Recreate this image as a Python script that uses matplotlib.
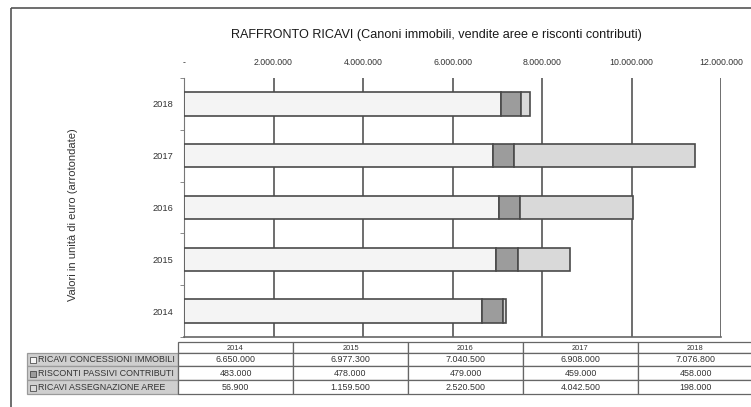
import numpy as np
import matplotlib.pyplot as plt
from matplotlib.patches import Rectangle
from matplotlib.ticker import FuncFormatter, FixedLocator

plt.rcParams['font.family'] = ['Liberation Sans', 'DejaVu Sans']

years = ["2014", "2015", "2016", "2017", "2018"]
series_names = [
    "RICAVI CONCESSIONI IMMOBILI",
    "RISCONTI PASSIVI CONTRIBUTI",
    "RICAVI ASSEGNAZIONE AREE",
]
concessioni = [6650000, 6977300, 7040500, 6908000, 7076800]
risconti = [483000, 478000, 479000, 459000, 458000]
assegnazione = [56900, 1159500, 2520500, 4042500, 198000]
colors = ["#f4f4f4", "#9c9c9c", "#d9d9d9"]


def euro(v, pos=None):
    if v == 0:
        return "-"
    return f"{int(round(v)):,}".replace(",", ".")


W, H = 751, 407
fig = plt.figure(figsize=(W / 100, H / 100), dpi=100)

# overlay in pixel units for the frame and the data table
pax = fig.add_axes([0, 0, 1, 1], zorder=-1)
pax.set_xlim(0, W)
pax.set_ylim(H, 0)
pax.set_axis_off()
pax.add_patch(Rectangle((11, 8), W + 20, H + 20, fill=False, edgecolor="#555555", lw=1.2))

ax = fig.add_axes([184 / W, (H - 337) / H, (721 - 184) / W, (337 - 78) / H])
y = np.arange(len(years))
left = np.zeros(len(years))
for vals, col in zip([concessioni, risconti, assegnazione], colors):
    ax.barh(y, vals, left=left, height=0.45, color=col, edgecolor="#4a4a4a", lw=1.2, zorder=3)
    left += np.array(vals)

ax.set_xlim(0, 12000000)
ax.set_ylim(-0.5, len(years) - 0.5)
ax.xaxis.set_major_locator(FixedLocator(np.arange(0, 12000001, 2000000)))
ax.xaxis.set_major_formatter(FuncFormatter(euro))
ax.xaxis.tick_top()
ax.tick_params(axis="x", length=0, pad=8, labelsize=6.3, colors="#333333")
ax.grid(axis="x", color="#555555", lw=1.2, zorder=1)

ax.set_yticks(y)
ax.set_yticklabels(years)
ax.set_yticks(np.arange(-0.5, len(years), 1.0), minor=True)
ax.tick_params(axis="y", which="major", length=0, pad=8, labelsize=6.7, colors="#333333")
ax.tick_params(axis="y", which="minor", length=3, color="#777777")

for side in ["top", "right"]:
    ax.spines[side].set_visible(False)
ax.spines["left"].set_color("#777777")
ax.spines["bottom"].set_color("#666666")
ax.spines["bottom"].set_linewidth(1.2)

fig.text(436 / W, (H - 35) / H,
         "RAFFRONTO RICAVI (Canoni immobili, vendite aree e risconti contributi)",
         ha="center", va="center", fontsize=9.1, color="#1a1a1a")
fig.text(73 / W, (H - 215) / H, "Valori in unità di euro (arrotondate)",
         rotation=90, ha="center", va="center", fontsize=8, color="#333333")

# data table under the chart
lab_x0, lab_x1 = 27, 178
col_w = 115
row_edges = [342, 353, 366, 380, 394]
# header row
for j, yr in enumerate(years):
    x0 = lab_x1 + j * col_w
    pax.add_patch(Rectangle((x0, row_edges[0]), col_w, row_edges[1] - row_edges[0],
                            facecolor="white", edgecolor="#666666", lw=0.9))
    pax.text(x0 + col_w / 2, (row_edges[0] + row_edges[1]) / 2 + 0.5, yr,
             ha="center", va="center", fontsize=5.4, color="#333333")
for i, (name, vals, col) in enumerate(zip(series_names,
                                          [concessioni, risconti, assegnazione], colors)):
    y0, y1 = row_edges[i + 1], row_edges[i + 2]
    yc = (y0 + y1) / 2 + 0.5
    pax.add_patch(Rectangle((lab_x0, y0), lab_x1 - lab_x0, y1 - y0,
                            facecolor="#cfcfcf", edgecolor="#9a9a9a", lw=0.9))
    pax.add_patch(Rectangle((30, yc - 3), 6, 6, facecolor=col, edgecolor="#333333", lw=0.5))
    pax.text(38, yc, name, ha="left", va="center", fontsize=6.4, color="#333333")
    for j, v in enumerate(vals):
        x0 = lab_x1 + j * col_w
        pax.add_patch(Rectangle((x0, y0), col_w, y1 - y0,
                                facecolor="white", edgecolor="#666666", lw=0.9))
        pax.text(x0 + col_w / 2, yc, euro(v), ha="center", va="center",
                 fontsize=6.4, color="#333333")

fig.savefig("out.png", dpi=100)
